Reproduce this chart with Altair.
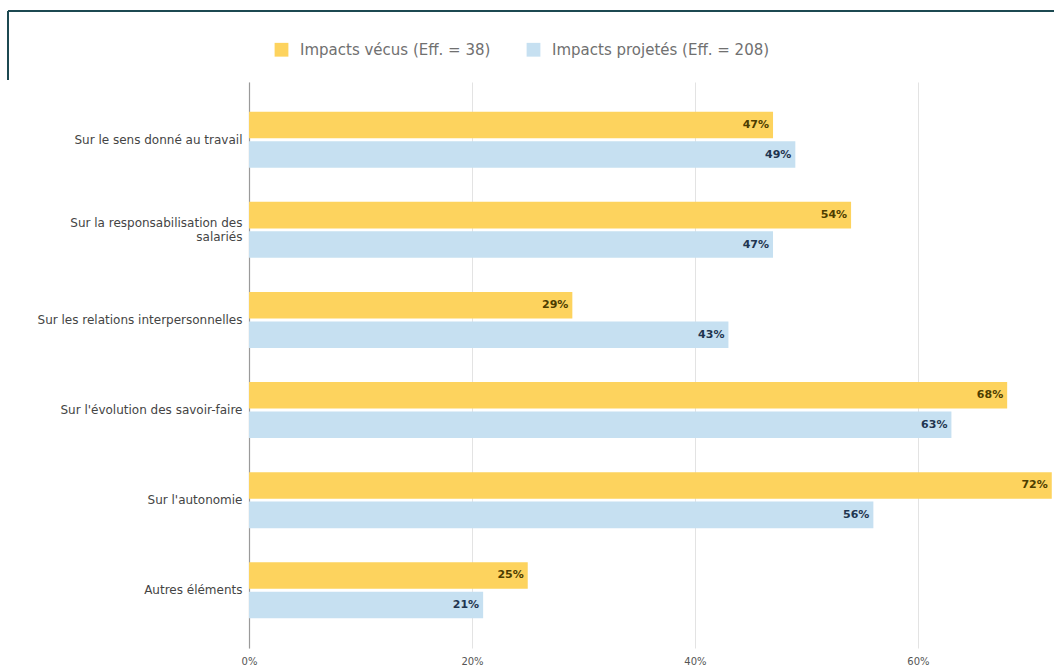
import altair as alt
import pandas as pd

categories = [
    "Sur le sens donné au travail",
    "Sur la responsabilisation des|salariés",
    "Sur les relations interpersonnelles",
    "Sur l'évolution des savoir-faire",
    "Sur l'autonomie",
    "Autres éléments",
]
series = ["Impacts vécus (Eff. = 38)", "Impacts projetés (Eff. = 208)"]
vecus = [47, 54, 29, 68, 72, 25]
projetes = [49, 47, 43, 63, 56, 21]
x_ticks = [0, 20, 40, 60]

rows = []
for c, v in zip(categories, vecus):
    rows.append({"cat": c, "serie": series[0], "val": v})
for c, v in zip(categories, projetes):
    rows.append({"cat": c, "serie": series[1], "val": v})
df = pd.DataFrame(rows)
df["label"] = df["val"].astype(str) + "%"

FONT = "DejaVu Sans"
colors = ["#FDD35E", "#C6E0F1"]
text_colors = ["#4d3d00", "#1f3550"]

y_enc = alt.Y(
    "cat:N",
    sort=categories,
    scale=alt.Scale(paddingInner=0.378, paddingOuter=0.33),
    axis=alt.Axis(
        title=None,
        labelExpr="split(datum.label, '|')",
        labelFontSize=12,
        labelColor="#444444",
        labelFont=FONT,
        labelPadding=7,
        labelOffset={"condition": {"test": "indexof(datum.value, '|') >= 0", "value": -7}, "value": 0},
        ticks=False,
        domain=True,
        domainColor="#9a9a9a",
        domainWidth=1.2,
        grid=False,
        labelLimit=260,
    ),
)
yoff = alt.YOffset(
    "serie:N", sort=series, scale=alt.Scale(paddingInner=0.1, paddingOuter=0)
)
x_enc = alt.X(
    "val:Q",
    scale=alt.Scale(domain=[0, 72.2], nice=False, zero=True),
    axis=alt.Axis(
        title=None,
        values=x_ticks,
        labelExpr="datum.value + '%'",
        labelFontSize=10,
        labelColor="#555555",
        labelFont=FONT,
        labelPadding=8,
        labelFlush=False,
        ticks=False,
        domain=False,
        grid=True,
        gridColor="#e3e3e3",
        gridWidth=1,
    ),
)

bars = alt.Chart(df).mark_bar().encode(
    y=y_enc,
    yOffset=yoff,
    x=x_enc,
    color=alt.Color(
        "serie:N",
        sort=series,
        scale=alt.Scale(domain=series, range=colors),
        legend=alt.Legend(
            title=None,
            orient="none",
            legendX=25,
            legendY=-40,
            direction="horizontal",
            symbolType="square",
            symbolSize=190,
            symbolStrokeWidth=0,
            labelFontSize=15,
            labelColor="#707070",
            labelFont=FONT,
            labelLimit=400,
            columnPadding=35,
            labelOffset=11,
        ),
    ),
)

texts = alt.Chart(df).mark_text(
    align="right", dx=-4, fontSize=11, fontWeight="bold", font=FONT
).encode(
    y=alt.Y("cat:N", sort=categories),
    yOffset=alt.YOffset("serie:N", sort=series),
    x=alt.X("val:Q"),
    text="label:N",
    color=alt.Color("serie:N", sort=series, scale=alt.Scale(domain=series, range=text_colors), legend=None),
)

frame_h = alt.Chart(df).mark_rule(color="#1d4a52", strokeWidth=1.5).encode(
    x=alt.value(-241), x2=alt.value(805), y=alt.value(-71)
)
frame_v = alt.Chart(df).mark_rule(color="#1d4a52", strokeWidth=1.5).encode(
    x=alt.value(-241), y=alt.value(-71), y2=alt.value(-2)
)

chart = (
    alt.layer(bars, texts, frame_h, frame_v)
    .resolve_scale(color="independent")
    .properties(
        width=805,
        height=566,
        autosize=alt.AutoSizeParams(type="none"),
        padding={"left": 249, "top": 82, "right": 0, "bottom": 23},
        background="white",
    )
    .configure_view(stroke=None)
)

chart.save("out.html", embed_options={"renderer": "svg", "actions": False})
